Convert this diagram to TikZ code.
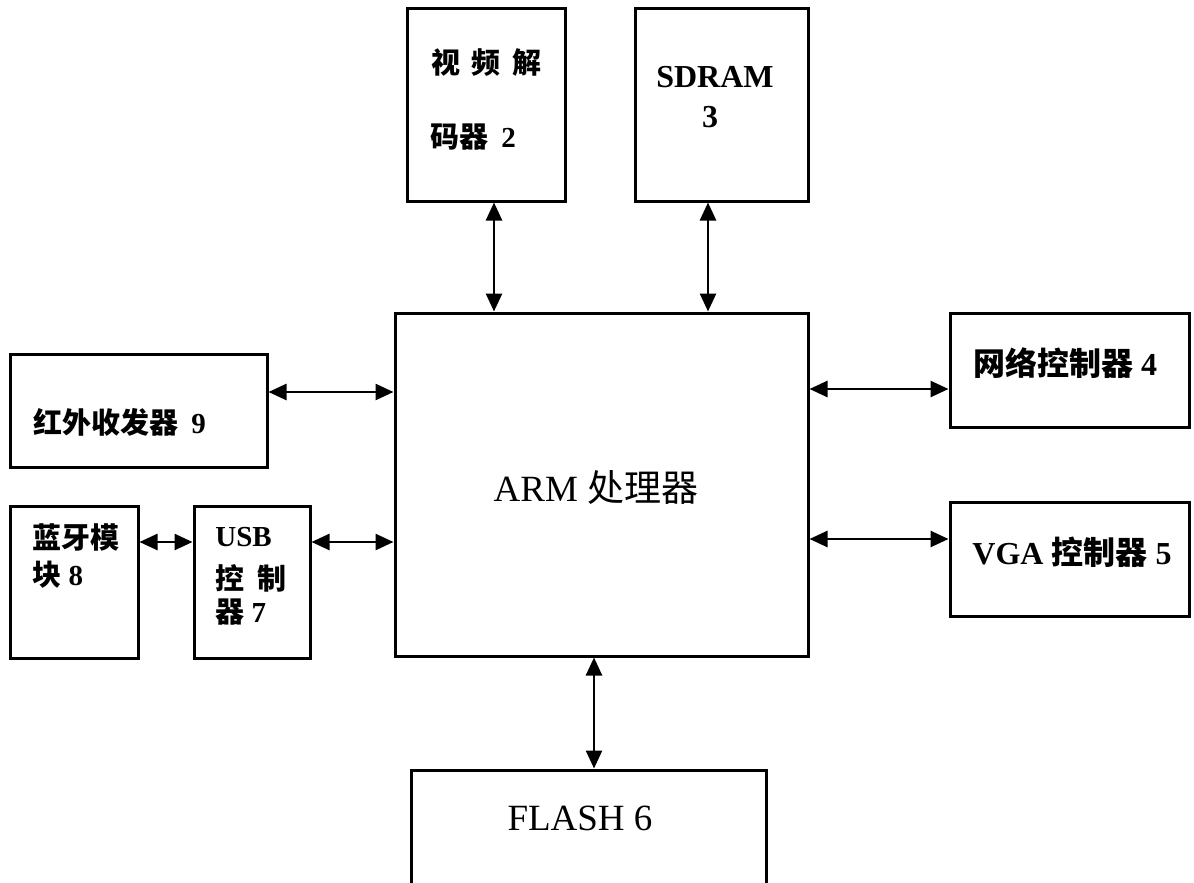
\documentclass[tikz,border=0pt]{standalone}
\usepackage{fontspec}
\setmainfont{Liberation Serif}
\newfontfamily\cjk{Noto Sans CJK SC}
\newfontfamily\cjkm{Noto Sans CJK SC Medium}
\usetikzlibrary{arrows.meta}
\newcommand{\zh}[1]{{\cjkm #1}}
\tikzset{
  blk/.style={draw, line width=1.5pt, rectangle, inner sep=0pt},
  lbl/.style={inner sep=0pt, font=\fontsize{14.5pt}{16pt}\selectfont\bfseries},
  biarrow/.style={line width=1.3pt, {Triangle[length=9pt,width=8pt]}-{Triangle[length=9pt,width=8pt]}}
}
\begin{document}
\begin{tikzpicture}[x=0.5pt,y=-0.5pt]
\useasboundingbox[fill=white] (0,0) rectangle (1194,883);
% boxes
\node[blk, minimum width=79pt, minimum height=96pt] (video) at (486,105) {};
\node[blk, minimum width=86.5pt, minimum height=96pt] (sdram) at (721.5,105) {};
\node[blk, minimum width=206.5pt, minimum height=171.5pt] (arm) at (601.5,484.5) {};
\node[blk, minimum width=119.5pt, minimum height=57pt] (net) at (1069.5,370) {};
\node[blk, minimum width=119.5pt, minimum height=57pt] (vga) at (1069.5,559) {};
\node[blk, minimum width=128.5pt, minimum height=56.5pt] (ir) at (138.5,410.5) {};
\node[blk, minimum width=64pt, minimum height=76pt] (bt) at (74,582) {};
\node[blk, minimum width=58pt, minimum height=76pt] (usb) at (252,582) {};
\node[blk, minimum width=177.5pt, minimum height=65pt] (flash) at (588.5,835) {};
% texts
\node[lbl] (t1) at (486.5,63) {\zh{视}\hspace{0.4em}\zh{频}\hspace{0.4em}\zh{解}};
\node[lbl, anchor=west] (t2) at (430,137) {\zh{码器}\hspace{0.45em}2};
\node[lbl, font=\fontsize{16pt}{18pt}\selectfont\bfseries] (t3) at (715,77) {SDRAM};
\node[lbl, font=\fontsize{16pt}{18pt}\selectfont\bfseries] (t4) at (710,117) {3};
\node[inner sep=0pt, font=\fontsize{18.5pt}{20pt}\selectfont] (t5) at (596,487) {ARM {\cjk 处理器}};
\node[lbl, font=\fontsize{16pt}{18pt}\selectfont\bfseries] (t6) at (1065,363) {\zh{网络控制器} 4};
\node[lbl, font=\fontsize{16pt}{18pt}\selectfont\bfseries] (t7) at (1072,552) {VGA \zh{控制器} 5};
\node[lbl, anchor=west] (t8) at (33,422) {\zh{红外收发器}\hspace{0.45em}9};
\node[lbl, anchor=west] (t9) at (32,537) {\zh{蓝牙模}};
\node[lbl, anchor=west] (t10) at (32,575) {\zh{块} 8};
\node[lbl, anchor=west] (t11) at (215,537) {USB};
\node[lbl, anchor=west] (t12) at (215,578) {\zh{控}\hspace{0.45em}\zh{制}};
\node[lbl, anchor=west] (t13) at (215,612) {\zh{器} 7};
\node[inner sep=0pt, font=\fontsize{18.5pt}{20pt}\selectfont] (t14) at (580,818) {FLASH 6};
% connectors
\draw[biarrow] ([xshift=4pt]video.south) -- ([xshift=4pt]video.south |- arm.north);
\draw[biarrow] ([xshift=-6.75pt]sdram.south) -- ([xshift=-6.75pt]sdram.south |- arm.north);
\draw[biarrow] ([yshift=9.25pt]ir.east) -- ([yshift=9.25pt]ir.east -| arm.west);
\draw[biarrow] ([yshift=20pt]usb.east) -- ([yshift=20pt]usb.east -| arm.west);
\draw[biarrow] ([yshift=20pt]bt.east) -- ([yshift=20pt]bt.east -| usb.west);
\draw[biarrow] ([yshift=-9.5pt]net.west -| arm.east) -- ([yshift=-9.5pt]net.west);
\draw[biarrow] ([yshift=10pt]vga.west -| arm.east) -- ([yshift=10pt]vga.west);
\draw[biarrow] ([xshift=-3.75pt]arm.south) -- ([xshift=-3.75pt]arm.south |- flash.north);
\end{tikzpicture}
\end{document}
